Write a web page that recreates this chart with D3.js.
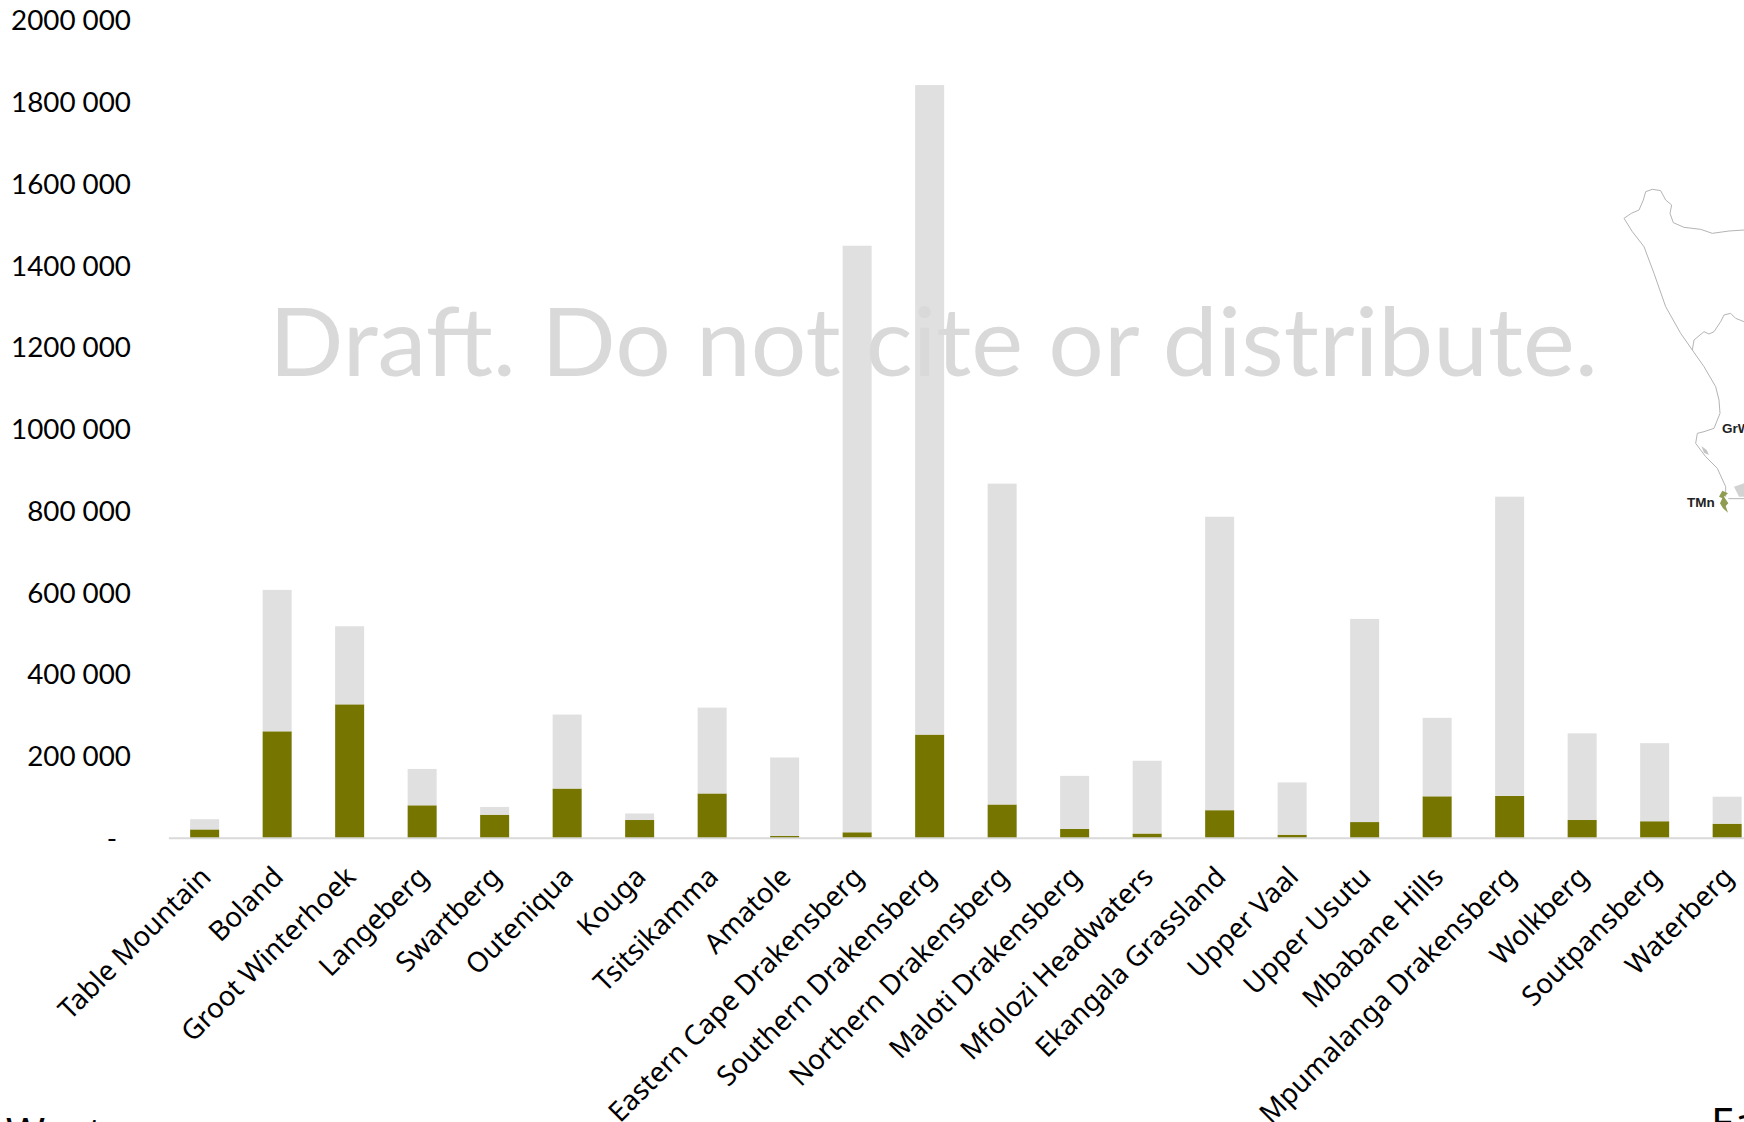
<!DOCTYPE html>
<meta charset="utf-8">
<style>
body { margin: 0; background: #fff; overflow: hidden; }
</style>
<script src="https://d3js.org/d3.v7.min.js"></script>

<div id="my_dataviz"></div>

<script>

// values
var categories = ["Table Mountain", "Boland", "Groot Winterhoek", "Langeberg", "Swartberg", "Outeniqua",
    "Kouga", "Tsitsikamma", "Amatole", "Eastern Cape Drakensberg", "Southern Drakensberg",
    "Northern Drakensberg", "Maloti Drakensberg", "Mfolozi Headwaters", "Ekangala Grassland",
    "Upper Vaal", "Upper Usutu", "Mbabane Hills", "Mpumalanga Drakensberg", "Wolkberg",
    "Soutpansberg", "Waterberg"];
var lowerValues = [21000, 261000, 327000, 80000, 57000, 121000, 44000, 109000, 5000, 14000, 253000,
    82000, 22000, 11000, 68000, 8000, 39000, 102000, 103000, 44000, 41000, 35000];
var upperValues = [25000, 346000, 191000, 89000, 19000, 181000, 16000, 210000, 192000, 1435000, 1589000,
    785000, 130000, 178000, 718000, 128000, 497000, 192000, 732000, 212000, 191000, 66000];
var yTicks = [0, 200000, 400000, 600000, 800000, 1000000, 1200000, 1400000, 1600000, 1800000, 2000000];
var yTickLabels = ["-", "200 000", "400 000", "600 000", "800 000", "1000 000", "1200 000", "1400 000",
    "1600 000", "1800 000", "2000 000"];

// bits of the map picture that sits behind the right edge of the chart
var coastOutline = [[600,240],[555,243],[505,250],[470,238],[420,232],[388,218],[378,190],[383,165],[365,150],
    [350,122],[325,118],[305,125],[298,150],[285,180],[262,190],[240,205],[265,245],[300,290],[330,370],
    [365,470],[410,550],[445,600],[480,650],[515,710],[525,750],[528,790],[510,835],[480,845],[460,850],
    [455,880],[485,920],[520,955],[545,1010],[545,1040]];
var provinceBorder = [[445,600],[450,570],[480,545],[495,552],[510,545],[530,515],[540,495],[560,490],[575,505],[600,515]];
var greenPatch = [[535,1022],[552,1030],[540,1040],[553,1060],[545,1068],[552,1088],[537,1075],[528,1060],[535,1045],[525,1040]];
var greyPatch = [[570,1010],[600,1000],[600,1040],[585,1040]];
var smallPatch = [[472,888],[488,900],[495,915],[480,908]];
var linkLine = [[553,1046],[600,1046]];

var width = 1744, height = 1122;
var x0 = 168.4, step = 72.5, yBase = 838, yTop = 20.5;

var svg = d3.select("#my_dataviz")
    .append("svg")
    .attr("width", width)
    .attr("height", height)
    .style("display", "block");

var x = d3.scaleBand()
    .domain(categories)
    .range([x0, x0 + step * categories.length])
    .paddingInner(0.6)
    .paddingOuter(0.3);

var y = d3.scaleLinear()
    .domain([0, 2000000])
    .range([yBase, yTop]);

// map fragment
var mapX = function(p) { return 1544 + p[0] / 3; };
var mapY = function(p) { return 150 + p[1] / 3; };
var mapLine = d3.line().x(mapX).y(mapY);
var map = svg.append("g");
[coastOutline, provinceBorder, linkLine].forEach(function(pts) {
    map.append("path").attr("d", mapLine(pts))
        .attr("fill", "none").attr("stroke", "#b4b4b4").attr("stroke-width", 1);
});
map.append("path").attr("d", mapLine(greyPatch) + "Z").attr("fill", "#d2d2d2");
map.append("path").attr("d", mapLine(smallPatch) + "Z").attr("fill", "#c4c4c4");
map.append("path").attr("d", mapLine(greenPatch) + "Z").attr("fill", "#8f9c52");
map.append("text").attr("x", 1687).attr("y", 507).text("TMn")
    .style("font", "bold 13.5px 'Liberation Sans'").attr("fill", "#222");
map.append("text").attr("x", 1722).attr("y", 433).text("GrW")
    .style("font", "bold 13.5px 'Liberation Sans'").attr("fill", "#222");

// stacked bars
var rows = categories.map(function(c, i) {
    return {name: c, lower: lowerValues[i], upper: upperValues[i]};
});
var stackedData = d3.stack().keys(["lower", "upper"])(rows);
var color = d3.scaleOrdinal().domain(["lower", "upper"]).range(["#757500", "#e0e0e0"]);

svg.append("g")
    .selectAll("g")
    .data(stackedData)
    .enter()
    .append("g")
    .attr("fill", function(d) { return color(d.key); })
    .selectAll("rect")
    .data(function(d) { return d; })
    .enter()
    .append("rect")
    .attr("x", function(d) { return x(d.data.name); })
    .attr("y", function(d) { return y(d[1]); })
    .attr("width", x.bandwidth())
    .attr("height", function(d) { return y(d[0]) - y(d[1]); });

// y axis
var yAxis = svg.append("g")
    .attr("transform", "translate(131,0.5)")
    .call(d3.axisLeft(y).tickValues(yTicks).tickSize(0).tickPadding(0)
        .tickFormat(function(d, i) { return yTickLabels[i]; }));
yAxis.select(".domain").remove();
yAxis.selectAll("text")
    .style("font-family", "Lato")
    .style("font-size", "27.8px")
    .attr("fill", "#000");
yAxis.selectAll(".tick").filter(function(d) { return d === 0; }).select("text")
    .attr("dx", "-14");

// x axis
var xAxis = svg.append("g")
    .attr("transform", "translate(0," + (yBase - 0.3) + ")")
    .call(d3.axisBottom(x).tickSize(0));
xAxis.select(".domain").attr("stroke", "#d9d9d9").attr("stroke-width", 2);
xAxis.selectAll("text")
    .attr("transform", "translate(1,34) rotate(-45)")
    .attr("dy", "0.35em")
    .attr("y", 0)
    .attr("x", 0)
    .attr("text-anchor", "end")
    .style("font-family", "'Noto Sans'")
    .style("font-size", "27.7px")
    .attr("fill", "#000");

// watermark goes over the bars
svg.append("text")
    .attr("x", 269)
    .attr("y", 376)
    .attr("textLength", 1329)
    .attr("lengthAdjust", "spacingAndGlyphs")
    .text("Draft. Do not cite or distribute.")
    .style("font-family", "Lato")
    .style("font-size", "95px")
    .attr("fill", "#d9d9d9");

// region captions cut off by the bottom of the frame
svg.append("text").attr("x", 6).attr("y", 1148).text("West")
    .style("font-family", "'Noto Sans'").style("font-size", "42px").attr("fill", "#000");
svg.append("text").attr("x", 1711).attr("y", 1138).text("East")
    .style("font-family", "'Noto Sans'").style("font-size", "42px").attr("fill", "#000");

</script>
